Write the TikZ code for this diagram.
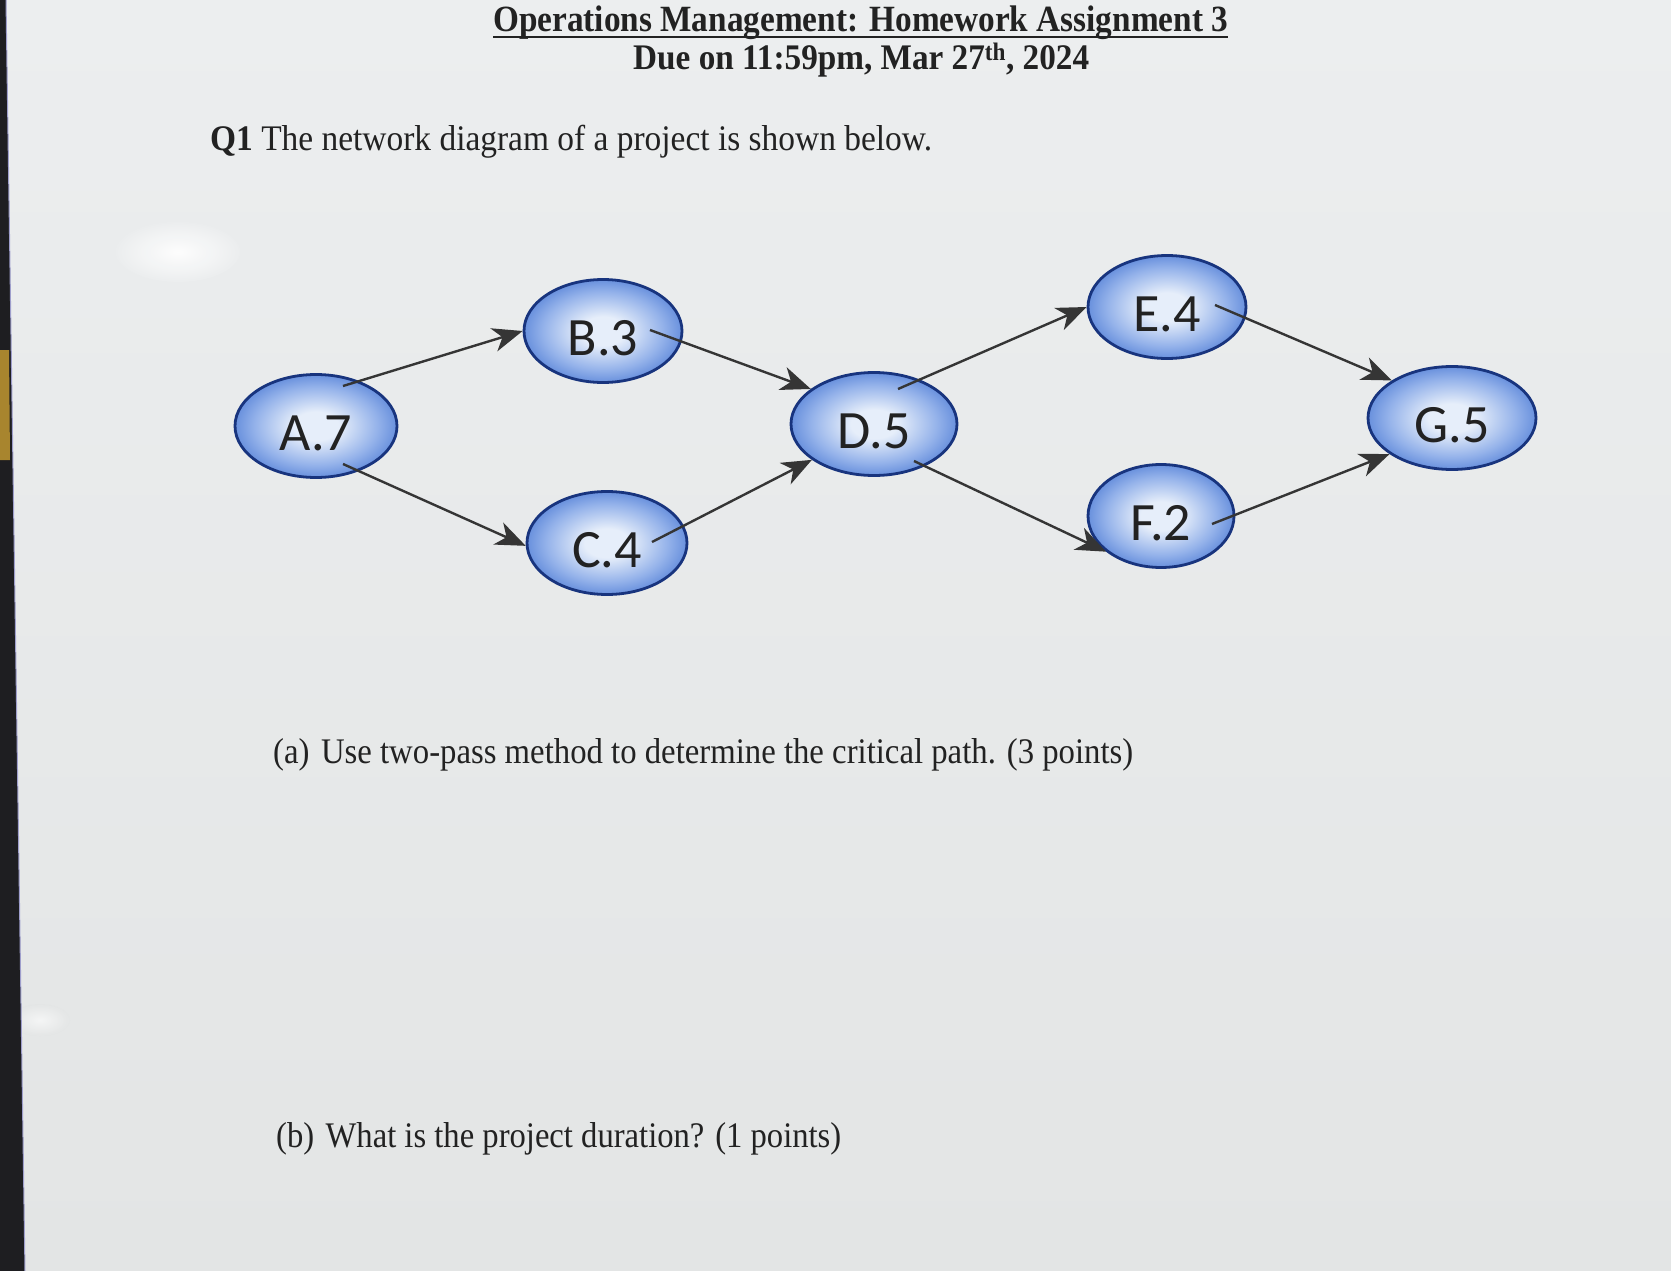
\documentclass[tikz,border=0pt]{standalone}
\usepackage{fontspec}
\usepackage{graphicx}
\setmainfont{Liberation Serif}
\newfontfamily\nodefont{Carlito}
\usetikzlibrary{shapes.geometric,arrows.meta,calc}
\definecolor{bgtop}{HTML}{ECEEEF}
\definecolor{bgbot}{HTML}{E3E5E5}
\definecolor{ink}{HTML}{222222}
\definecolor{nodein}{HTML}{E6EEFA}
\definecolor{nodemid}{HTML}{94B2EA}
\definecolor{nodeout}{HTML}{4474D2}
\definecolor{nodeedge}{HTML}{3865C4}
\definecolor{nodeborder}{HTML}{18347E}
\definecolor{arrowc}{HTML}{353535}
\definecolor{edgedark}{HTML}{1E1E21}
\definecolor{edgeyel}{HTML}{A8852E}
\pgfdeclareradialshading{nodeshade}{\pgfpoint{0bp}{0bp}}{color(0bp)=(nodein); color(7bp)=(nodein); color(19bp)=(nodemid); color(30bp)=(nodeout); color(35bp)=(nodeedge); color(50bp)=(nodeedge)}
\newcommand{\lowtxt}[1]{\raisebox{-7pt}[\height][\depth]{#1}}
\tikzset{
  activity/.style={ellipse, draw=nodeborder, line width=2.8pt, shading=nodeshade,
    inner sep=0pt, font=\nodefont\fontsize{54}{60}\selectfont, text=ink},
  link/.style={draw=arrowc, line width=2.4pt, -{Stealth[length=30pt,width=24pt,inset=9pt]}},
  txt/.style={inner sep=0pt, anchor=base west, text=ink},
}
\begin{document}
\begin{tikzpicture}[x=1pt,y=-1pt]
\useasboundingbox (0,0) rectangle (1671,1271);
% background
\shade[top color=bgtop, bottom color=bgbot] (0,0) rectangle (1671,1271);
\shade[inner color=white, outer color=bgtop, opacity=0.9] (178,252) ellipse (62 and 30);
\shade[inner color=white, outer color=bgbot, opacity=0.6] (40,1020) ellipse (30 and 16);
\fill[edgedark] (0,0) -- (6,0) -- (25,1271) -- (0,1271) -- cycle;
\fill[edgeyel] (0,350) -- (9,350) -- (10,460) -- (0,460) -- cycle;
\draw[color=white!70!blue!60!gray, line width=1pt] (6,0) -- (25,1271);

% texts
\node[txt] (title) at (493,32) {\resizebox{735pt}{\height}{\fontsize{37}{44}\selectfont\bfseries Operations Management: Homework Assignment 3}};
\draw[ink, line width=2.4pt] ($(title.base west)+(0,5)$) -- ($(title.base east)+(0,5)$);
\node[txt] (due) at (633,70) {\resizebox{456pt}{\height}{\fontsize{36}{43}\selectfont\bfseries Due on 11:59pm, Mar 27\textsuperscript{th}, 2024}};
\node[txt] (q1) at (210,151) {\resizebox{722pt}{\height}{\fontsize{36}{43}\selectfont\textbf{Q1} The network diagram of a project is shown below.}};
\node[txt] (qa) at (273,763) {\resizebox{860pt}{\height}{\fontsize{36}{43}\selectfont(a)\hspace{0.35em}Use two-pass method to determine the critical path. (3 points)}};
\node[txt] (qb) at (276,1147) {\resizebox{565pt}{\height}{\fontsize{36}{43}\selectfont(b)\hspace{0.35em}What is the project duration? (1 points)}};

% nodes
\node[activity, minimum width=162pt, minimum height=103pt] (A) at (316,426) {\lowtxt{A.7}};
\node[activity, minimum width=158pt, minimum height=103pt] (B) at (603,331) {\lowtxt{B.3}};
\node[activity, minimum width=160pt, minimum height=103pt] (C) at (607,543) {\lowtxt{C.4}};
\node[activity, minimum width=166pt, minimum height=103pt] (D) at (874,424) {\lowtxt{D.5}};
\node[activity, minimum width=158pt, minimum height=103pt] (E) at (1167,307) {\lowtxt{E.4}};
\node[activity, minimum width=146pt, minimum height=103pt] (F) at (1161,516) {\lowtxt{F.2}};
\node[activity, minimum width=168pt, minimum height=103pt] (G) at (1452,418) {\lowtxt{G.5}};

% connectors
\draw[link] ($(A.center)+(27,-40)$) -- (B.west);
\draw[link] ($(A.center)+(27,38)$) -- (C.182);
\draw[link] ($(B.center)+(47,-1)$) -- (D.151);
\draw[link] ($(C.center)+(45,-1)$) -- (D.210);
\draw[link] ($(D.center)+(24,-35)$) -- (E.west);
\draw[link] ($(D.center)+(40,37)$) -- (F.213);
\draw[link] ($(E.center)+(48,-2)$) -- (G.148);
\draw[link] ($(F.center)+(51,8)$) -- (G.210);
\end{tikzpicture}
\end{document}
